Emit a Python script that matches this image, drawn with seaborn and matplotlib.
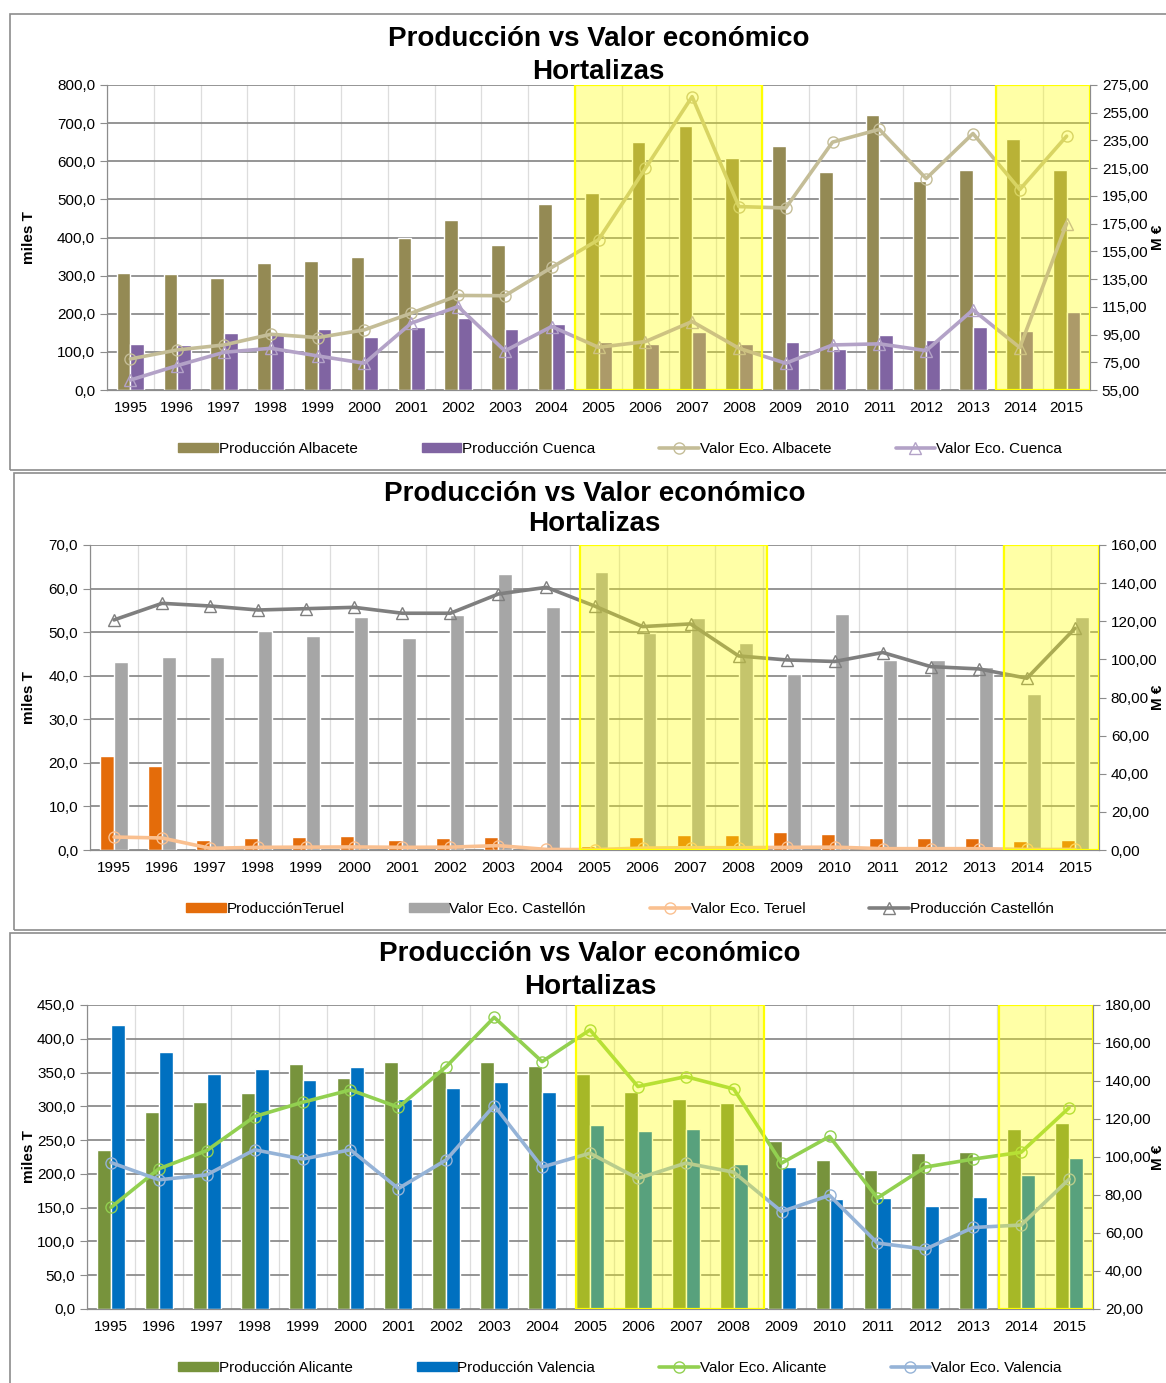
import numpy as np
import pandas as pd
import matplotlib
matplotlib.use("Agg")
import matplotlib.pyplot as plt
import seaborn as sns
from matplotlib.patches import Patch, Rectangle
from matplotlib.lines import Line2D
from matplotlib.ticker import FuncFormatter, FixedLocator

# ------------------ DATA ------------------
years = [str(y) for y in range(1995, 2016)]

# Panel 1 (Albacete / Cuenca)
prod_albacete = [307, 305, 293, 333, 338, 349, 398, 447, 381, 487, 516,
                 650, 693, 609, 639, 572, 722, 548, 577, 658, 576]
prod_cuenca = [121, 118, 150, 150, 161, 139, 165, 189, 159, 174, 127,
               120, 153, 121, 126, 107, 143, 131, 165, 154, 205]
valor_albacete = [77.4, 83.9, 87.5, 95.2, 92.8, 98.4, 110.4, 123.2, 123.0, 143.4, 163.4,
                  214.8, 266.6, 187.3, 186.3, 233.8, 243.0, 207.5, 240.0, 199.6, 238.1]
valor_cuenca = [62.2, 72.6, 82.2, 85.1, 79.6, 74.3, 103.2, 115.2, 83.2, 100.8, 85.8,
                89.9, 104.4, 85.1, 74.3, 87.5, 88.3, 83.4, 112.8, 85.6, 175.0]

# Panel 2 (Teruel / Castellón)
prod_teruel = [21.5, 19.2, 2.4, 2.7, 2.9, 3.3, 2.4, 2.7, 2.9, 0.3, 1.0,
               3.0, 3.5, 3.4, 4.1, 3.6, 2.8, 2.8, 2.8, 2.1, 2.4]
valor_castellon = [43.1, 44.2, 44.2, 50.3, 49.2, 53.4, 48.6, 53.9, 63.3, 55.7, 63.7,
                   49.7, 53.3, 47.4, 40.3, 54.2, 43.6, 43.6, 41.9, 35.8, 53.5]
valor_teruel = [6.8, 6.3, 0.9, 1.4, 1.5, 1.6, 1.4, 1.5, 2.3, 0.3, 0.2,
                1.0, 1.2, 1.2, 1.4, 1.5, 0.7, 0.7, 0.7, 0.3, 0.3]
prod_castellon = [120.7, 129.4, 128.0, 125.9, 126.6, 127.3, 124.2, 124.2, 134.3, 137.8, 128.0,
                  117.2, 118.6, 101.8, 99.7, 98.9, 103.6, 96.2, 95.0, 90.1, 116.3]

# Panel 3 (Alicante / Valencia)
prod_alicante = [236, 291, 307, 320, 362, 342, 366, 353, 365, 359, 348,
                 321, 311, 305, 249, 220, 206, 231, 233, 267, 275]
prod_valencia = [420, 381, 348, 355, 339, 358, 311, 327, 336, 321, 272,
                 264, 266, 215, 210, 163, 164, 152, 166, 198, 224]
valor_alicante = [73.5, 93.8, 103.4, 121.3, 128.8, 135.3, 126.2, 147.6, 173.5, 150.2, 166.9,
                  137.1, 142.3, 135.8, 96.8, 110.8, 78.4, 94.7, 98.9, 102.5, 125.9]
valor_valencia = [97.1, 88.0, 90.6, 103.8, 98.9, 103.8, 83.4, 98.5, 127.1, 94.7, 102.0,
                  88.7, 96.8, 92.0, 71.3, 79.8, 54.7, 51.5, 62.9, 64.2, 88.3]

# highlighted year ranges (first and last year of each band)
highlight_years = [("2005", "2008"), ("2014", "2015")]

# ------------------ STYLE ------------------
sns.set_style("white")
plt.rcParams['font.family'] = ['Liberation Sans', 'DejaVu Sans']
for k in ["text.color", "axes.labelcolor", "xtick.color", "ytick.color"]:
    plt.rcParams[k] = "black"

W, H = 1166, 1383
fig = plt.figure(figsize=(W / 100, H / 100), dpi=100)

GRID = "#8C8C8C"
comma1 = FuncFormatter(lambda v, p: f"{v:.1f}".replace(".", ","))
comma2 = FuncFormatter(lambda v, p: f"{v:.2f}".replace(".", ","))


def px_axes(l, t, r, b):
    return fig.add_axes([l / W, 1 - b / H, (r - l) / W, (b - t) / H])


def frame(l, t, r, b):
    fig.patches.append(Rectangle((l / W, 1 - b / H), (r - l) / W, (b - t) / H,
                                 transform=fig.transFigure, fill=False,
                                 edgecolor="#8C8C8C", lw=1.2))


def draw_panel(box, title_y, legend_y, bars, lines, lims, legend_order, span_shift):
    l, t, r, b = box
    ax = px_axes(l, t, r, b)
    n = len(years)

    # bars
    df = pd.DataFrame({
        "year": years * 2,
        "value": bars[0][1] + bars[1][1],
        "serie": [bars[0][0]] * n + [bars[1][0]] * n,
    })
    sns.barplot(data=df, x="year", y="value", hue="serie",
                hue_order=[bars[0][0], bars[1][0]],
                palette={bars[0][0]: bars[0][2], bars[1][0]: bars[1][2]},
                width=0.58, gap=0, saturation=1, legend=False, ax=ax)
    ax.set_xlim(-0.5, n - 0.5)
    lo, hi, st = lims[0]
    ax.set_ylim(lo, hi)
    ax.yaxis.set_major_locator(FixedLocator(np.arange(lo, hi + st / 2, st)))
    ax.yaxis.set_major_formatter(comma1)
    ax.set_axisbelow(True)
    ax.grid(axis="y", color=GRID, lw=1.3)
    ax.xaxis.set_minor_locator(FixedLocator(np.arange(-0.5, n, 1.0)))
    ax.grid(axis="x", which="minor", color="#DDDDDD", lw=0.9)
    ax.tick_params(axis="x", which="major", length=0, labelsize=11, pad=8)
    ax.tick_params(axis="x", which="minor", length=5, color=GRID, direction="out")
    ax.tick_params(axis="y", length=5, color=GRID, direction="out", labelsize=11, left=True)
    ax.set_xlabel("")
    ax.set_ylabel("miles T", fontsize=11, fontweight="bold")
    ax.yaxis.set_label_coords((36 - l) / (r - l), 0.5)
    for s in ["left", "bottom", "right"]:
        ax.spines[s].set_color(GRID)
    ax.spines["top"].set_visible(False)

    # lines on secondary axis
    ax2 = ax.twinx()
    pos = np.arange(n)
    for name, vals, color, mk in lines:
        sns.lineplot(x=pos, y=vals, ax=ax2, color=color, lw=2.6, marker=mk,
                     markersize=8, markerfacecolor="none", markeredgecolor=color,
                     markeredgewidth=1.0, legend=False)
    lo, hi, st = lims[1]
    ax2.set_ylim(lo, hi)
    ax2.yaxis.set_major_locator(FixedLocator(np.arange(lo, hi + st / 2, st)))
    ax2.yaxis.set_major_formatter(comma2)
    ax2.tick_params(axis="y", length=5, color=GRID, direction="out", labelsize=11, right=True)
    ax2.set_ylabel("")
    for s in ["left", "bottom", "right"]:
        ax2.spines[s].set_color(GRID)
    ax2.spines["top"].set_visible(False)
    ax2.set_xlim(-0.5, n - 0.5)
    fig.text(1158 / W, 1 - (t + b) / 2 / H, "M €", rotation=90, ha="center", va="center",
             fontsize=11, fontweight="bold")

    # yellow highlight (hand-drawn boxes in the original, slightly off the category grid)
    for (y0, y1), (d0, d1) in zip(highlight_years, span_shift):
        x0 = years.index(y0) - 0.5 + d0
        x1 = min(years.index(y1) + 0.5 + d1, n - 0.5)
        ax2.axvspan(x0, x1, facecolor=(1, 1, 0, 0.35), edgecolor="#FFFF00", lw=1.6, zorder=10)

    # titles
    cx = (l + r) / 2 / W
    fig.text(cx, 1 - title_y[0] / H, "Producción vs Valor económico", ha="center",
             va="center", fontsize=20, fontweight="bold")
    fig.text(cx, 1 - title_y[1] / H, "Hortalizas", ha="center", va="center",
             fontsize=20, fontweight="bold")

    # legend
    handles = {}
    for name, vals, color in bars:
        handles[name] = Patch(facecolor=color, edgecolor=color)
    for name, vals, color, mk in lines:
        handles[name] = Line2D([0], [0], color=color, lw=2.6, marker=mk, markersize=8,
                               markerfacecolor="none", markeredgecolor=color)
    fig.legend([handles[k] for k in legend_order], legend_order, ncol=4,
               loc="center", bbox_to_anchor=(620 / W, 1 - legend_y / H), frameon=False,
               fontsize=11, handlelength=2.6, handleheight=0.6, handletextpad=0.05,
               columnspacing=4.2)
    return ax, ax2


frame(10, 14, 1175, 470)
frame(14, 473, 1175, 930)
frame(10, 933, 1175, 1395)

draw_panel((107, 85, 1090, 390), (39, 72), 449,
           [("Producción Albacete", prod_albacete, "#948A54"),
            ("Producción Cuenca", prod_cuenca, "#8064A2")],
           [("Valor Eco. Albacete", valor_albacete, "#C4BD97", "o"),
            ("Valor Eco. Cuenca", valor_cuenca, "#B3A2C7", "^")],
           ((0, 800, 100), (55, 275, 20)),
           ["Producción Albacete", "Producción Cuenca", "Valor Eco. Albacete", "Valor Eco. Cuenca"],
           [(0.0, 0.0), (0.0, 0.0)])

draw_panel((90, 545, 1099, 850), (494, 524), 909,
           [("ProducciónTeruel", prod_teruel, "#E46C0A"),
            ("Valor Eco. Castellón", valor_castellon, "#A6A6A6")],
           [("Valor Eco. Teruel", valor_teruel, "#FAC090", "o"),
            ("Producción Castellón", prod_castellon, "#7F7F7F", "^")],
           ((0, 70, 10), (0, 160, 20)),
           ["ProducciónTeruel", "Valor Eco. Castellón", "Valor Eco. Teruel", "Producción Castellón"],
           [(0.19, 0.1), (0.02, 0.0)])

draw_panel((87, 1005, 1093, 1309), (954, 987), 1368,
           [("Producción Alicante", prod_alicante, "#77933C"),
            ("Producción Valencia", prod_valencia, "#0070C0")],
           [("Valor Eco. Alicante", valor_alicante, "#92D050", "o"),
            ("Valor Eco. Valencia", valor_valencia, "#95B3D7", "o")],
           ((0, 450, 50), (20, 180, 20)),
           ["Producción Alicante", "Producción Valencia", "Valor Eco. Alicante", "Valor Eco. Valencia"],
           [(0.2, 0.14), (0.03, 0.0)])

fig.savefig("out.png", dpi=100)
